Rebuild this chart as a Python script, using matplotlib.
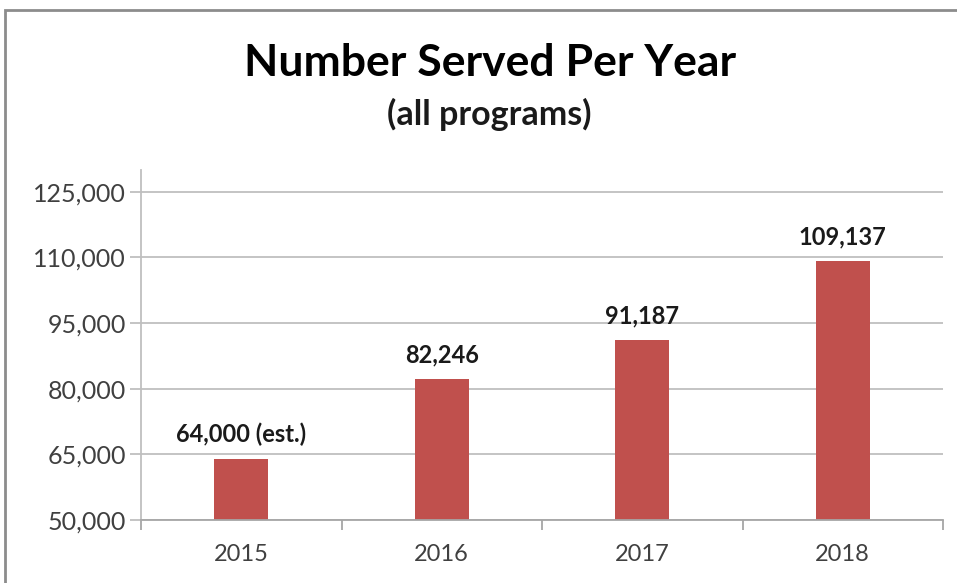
import matplotlib.pyplot as plt
import matplotlib.ticker as mticker
from matplotlib.patches import Rectangle

# data
years = ["2015", "2016", "2017", "2018"]
served = [64000, 82246, 91187, 109137]
bar_labels = ["64,000 (est.)", "82,246", "91,187", "109,137"]
y_ticks = [50000, 65000, 80000, 95000, 110000, 125000]

plt.rcParams['font.family'] = ['Lato', 'DejaVu Sans']

bar_color = "#C0504D"
grid_color = "#BFBFBF"
text_gray = "#404040"

fig = plt.figure(figsize=(9.57, 5.83), dpi=100)
ax = fig.add_axes([141 / 957, 1 - 520 / 583, (943 - 141) / 957, (520 - 170) / 583])

x = list(range(len(years)))
base = y_ticks[0]
ax.bar(x, [v - base for v in served], bottom=base, width=0.27,
       color=bar_color, zorder=3)

for xi, val, lab in zip(x, served, bar_labels):
    ax.annotate(lab, (xi, val), xytext=(0, 9), textcoords="offset points",
                ha="center", va="bottom", fontsize=17, fontweight="bold",
                color="#1a1a1a")

ax.set_xlim(-0.5, len(years) - 0.5)
ax.set_ylim(base, 130000)
ax.set_yticks(y_ticks)
ax.yaxis.set_major_formatter(mticker.StrMethodFormatter("{x:,.0f}"))
ax.set_xticks(x)
ax.set_xticklabels(years)
ax.set_xticks([i - 0.5 for i in range(len(years) + 1)], minor=True)
ax.xaxis.set_minor_formatter(mticker.NullFormatter())

ax.grid(axis="y", color=grid_color, linewidth=1.3, zorder=0)
for s in ["top", "right"]:
    ax.spines[s].set_visible(False)
ax.spines["left"].set_color(grid_color)
ax.spines["left"].set_linewidth(1.3)
ax.spines["bottom"].set_color("#A6A6A6")
ax.spines["bottom"].set_linewidth(1.3)
ax.spines["bottom"].set_zorder(4)

ax.tick_params(axis="y", length=8, color=grid_color, width=1.3,
               labelsize=18, labelcolor=text_gray, pad=3)
ax.tick_params(axis="x", which="major", length=0, labelsize=17,
               labelcolor=text_gray, pad=17)
ax.tick_params(axis="x", which="minor", length=7, color="#A6A6A6", width=1.3)

fig.text(490 / 957, 1 - 63 / 583, "Number Served Per Year", ha="center",
         va="center", fontsize=32, fontweight="bold", color="black")
fig.text(489 / 957, 1 - 114 / 583, "(all programs)", ha="center",
         va="center", fontsize=24.5, fontweight="bold", color="#1a1a1a")

# outer chart border (cut off on the right and bottom)
fig.patches.append(Rectangle((5 / 957, -0.1), 1.2, 1 - 10 / 583 + 0.1,
                             transform=fig.transFigure, fill=False,
                             edgecolor="#8C8C8C", linewidth=2))

fig.savefig("out.png", dpi=100)
